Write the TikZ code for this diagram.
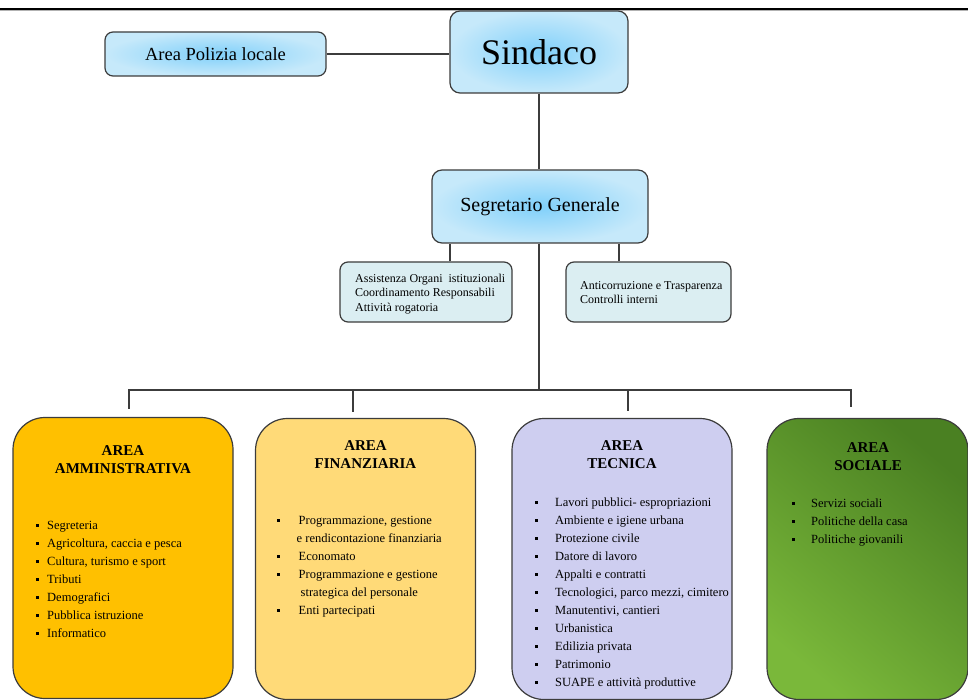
\documentclass[tikz,border=0pt]{standalone}
\usepackage{fontspec}
\setmainfont{Liberation Serif}
\definecolor{bluein}{RGB}{128,208,250}
\definecolor{blueout}{RGB}{198,233,250}
\definecolor{lightbox}{RGB}{219,238,242}
\definecolor{ammfill}{RGB}{255,192,0}
\definecolor{finfill}{RGB}{255,218,120}
\definecolor{tecfill}{RGB}{206,206,240}
\definecolor{socdark}{RGB}{74,128,34}
\definecolor{soclight}{RGB}{122,184,58}
\definecolor{edge}{RGB}{60,60,60}
\newcommand{\sq}{\raisebox{2.5pt}{\rule{3pt}{3pt}}}

\begin{document}
\begin{tikzpicture}[x=1pt,y=-1pt,
    conn/.style={draw=edge,line width=1.4pt},
    bluebox/.style={draw=edge,line width=1.2pt,rounded corners=10pt,shading=radial,inner color=bluein,outer color=blueout,inner sep=0pt},
    smallbox/.style={draw=edge,line width=1.2pt,rounded corners=8pt,fill=lightbox,inner sep=0pt},
    smalltext/.style={anchor=north west,inner sep=0pt,font=\fontsize{12}{14.5}\selectfont},
    areabox/.style={draw=edge,line width=1.2pt,rounded corners=32pt,minimum width=220pt,minimum height=281pt,inner sep=0pt},
    areatitle/.style={anchor=north,inner sep=0pt,font=\fontsize{15}{18}\selectfont\bfseries},
    arealist/.style={anchor=north west,inner sep=0pt,font=\fontsize{12.5}{18}\selectfont}]
    \useasboundingbox (0,0) rectangle (968,700);
    \draw[line width=2pt] (0,9)--(968,9);
    \draw[gray!60,line width=1pt] (0,10.8)--(968,10.8);
    % top of the chart
    \node[bluebox,minimum width=178pt,minimum height=82pt,font=\fontsize{36}{40}\selectfont] (sind) at (539,52) {Sindaco};
    \node[bluebox,rounded corners=8pt,minimum width=221pt,minimum height=44pt,font=\fontsize{18.5}{22}\selectfont] (pol) at (215.5,54) {Area Polizia locale};
    \node[bluebox,minimum width=216pt,minimum height=73pt,font=\fontsize{20}{24}\selectfont] (seg) at (540,206.5) {Segretario Generale};
    \node[smallbox,minimum width=172pt,minimum height=60pt] (ass) at (426,292) {};
    \node[smalltext] (asstext) at (355,271.8) {\begin{tabular}{@{}l@{}}Assistenza Organi\ \ istituzionali\\Coordinamento Responsabili\\Attività rogatoria\end{tabular}};
    \node[smallbox,minimum width=165pt,minimum height=60pt] (anti) at (648.5,292) {};
    \node[smalltext] (antitext) at (580,278.8) {\begin{tabular}{@{}l@{}}Anticorruzione e Trasparenza\\Controlli interni\end{tabular}};
    % the four areas
    \node[areabox,fill=ammfill] (amm) at (123,558) {};
    \node[areatitle] (ammtitle) at (123,442.4) {\begin{tabular}{@{}c@{}}AREA\\AMMINISTRATIVA\end{tabular}};
    \node[arealist] (ammlist) at (35.5,516.4) {\begin{tabular}{@{}l@{\hspace{8.5pt}}l@{}}
        \sq & Segreteria\\
        \sq & Agricoltura, caccia e pesca\\
        \sq & Cultura, turismo e sport\\
        \sq & Tributi\\
        \sq & Demografici\\
        \sq & Pubblica istruzione\\
        \sq & Informatico\end{tabular}};
    \node[areabox,fill=finfill] (fin) at (365.5,559) {};
    \node[areatitle] (fintitle) at (365.5,437.4) {\begin{tabular}{@{}c@{}}AREA\\FINANZIARIA\end{tabular}};
    \node[arealist] (finlist) at (276.5,511.4) {\begin{tabular}{@{}l@{\hspace{19pt}}l@{}}
        \sq & Programmazione, gestione\\
            & \hspace{-2pt}e rendicontazione finanziaria\\
        \sq & Economato\\
        \sq & Programmazione e gestione\\
            & \hspace{2pt}strategica del personale\\
        \sq & Enti partecipati\end{tabular}};
    \node[areabox,fill=tecfill] (tec) at (622,559) {};
    \node[areatitle] (tectitle) at (622,437.4) {\begin{tabular}{@{}c@{}}AREA\\TECNICA\end{tabular}};
    \node[arealist] (teclist) at (534.5,493.4) {\begin{tabular}{@{}l@{\hspace{17.5pt}}l@{}}
        \sq & Lavori pubblici- espropriazioni\\
        \sq & Ambiente e igiene urbana\\
        \sq & Protezione civile\\
        \sq & Datore di lavoro\\
        \sq & Appalti e contratti\\
        \sq & Tecnologici, parco mezzi, cimitero\\
        \sq & Manutentivi, cantieri\\
        \sq & Urbanistica\\
        \sq & Edilizia privata\\
        \sq & Patrimonio\\
        \sq & SUAPE e attività produttive\end{tabular}};
    \node[areabox,minimum width=201pt,top color=soclight,bottom color=socdark,shading angle=140] (soc) at (867.5,559) {};
    \node[areatitle] (soctitle) at (868,439.4) {\begin{tabular}{@{}c@{}}AREA\\SOCIALE\end{tabular}};
    \node[arealist] (soclist) at (791.5,494.4) {\begin{tabular}{@{}l@{\hspace{16.5pt}}l@{}}
        \sq & Servizi sociali\\
        \sq & Politiche della casa\\
        \sq & Politiche giovanili\end{tabular}};
    % connectors
    \draw[conn] (pol.east)--(pol.east -| sind.west);
    \draw[conn] (sind.south)--(sind.south |- seg.north);
    \coordinate (bus) at (539,390);
    \draw[conn] (seg.south -| bus)--(bus);
    \coordinate (assdrop) at ([xshift=24pt]ass.north);
    \coordinate (antidrop) at ([xshift=-29.5pt]anti.north);
    \draw[conn] (assdrop)--(assdrop |- seg.south);
    \draw[conn] (antidrop)--(antidrop |- seg.south);
    \coordinate (ammdrop) at ([xshift=6pt,yshift=8pt]amm.north);
    \coordinate (findrop) at ([xshift=-12.5pt,yshift=6pt]fin.north);
    \coordinate (tecdrop) at ([xshift=6pt,yshift=7pt]tec.north);
    \coordinate (socdrop) at ([xshift=-16.5pt,yshift=11pt]soc.north);
    \draw[conn] (ammdrop) |- (bus) -| (socdrop);
    \draw[conn] (findrop)--(findrop |- bus);
    \draw[conn] (tecdrop)--(tecdrop |- bus);
\end{tikzpicture}
\end{document}
